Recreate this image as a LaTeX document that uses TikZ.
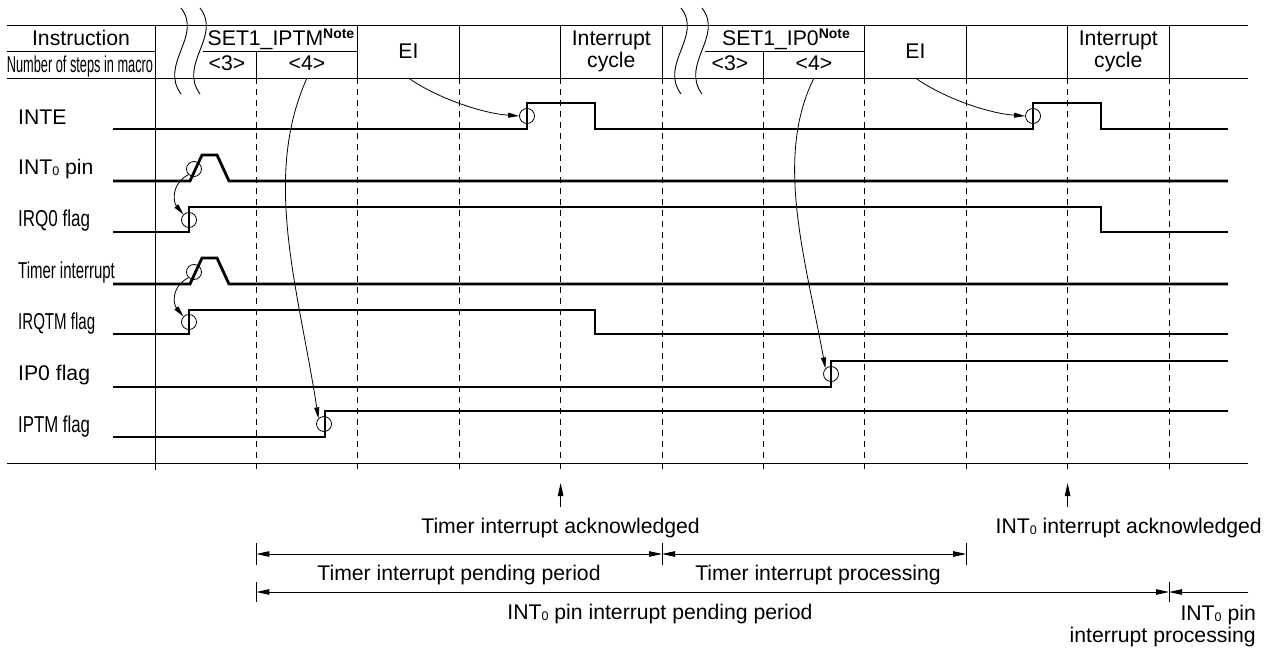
\documentclass[tikz,border=0pt]{standalone}
\usepackage{fontspec}
\setmainfont{Liberation Sans}
\usetikzlibrary{arrows.meta}
\newcommand{\tdfont}{\fontsize{21.2}{22}\selectfont}
\newcommand{\tdtall}{\fontsize{23}{24}\selectfont}
\newcommand{\tdsub}[1]{\raisebox{-1pt}{\fontsize{12.5}{12.5}\selectfont #1}}
\newcommand{\tdnote}{\raisebox{7.5pt}{\fontsize{14}{14}\selectfont\bfseries Note}}
\newcommand{\squeezed}[2]{\scalebox{#1}[1]{\tdtall #2}}
\tikzset{
  tdrule/.style={draw, line width=0.9pt},
  tdgrid/.style={draw, line width=0.9pt, dash pattern=on 6pt off 5pt},
  tdwave/.style={draw, line width=2.8pt},
  tdmark/.style={circle, draw, line width=0.8pt, minimum size=15pt,
                 inner sep=0pt},
  tdcause/.style={draw, line width=0.8pt,
                  -{Triangle[length=11pt, width=5pt]}},
  tdtext/.style={font=\tdfont, inner sep=0pt},
  tdsignal/.style={tdtext, anchor=base west},
  tddim/.style={draw, line width=0.9pt},
  tdboth/.style={{Triangle[length=13pt, width=5.5pt]}-{Triangle[length=13pt, width=5.5pt]}},
  tdone/.style={-{Triangle[length=13pt, width=5.5pt]}}
}

\begin{document}
\begin{tikzpicture}[x=1pt, y=-1pt]
  \path[use as bounding box] (0,0) rectangle (1272,650);
  \coordinate (hb) at (0,78);
  % table frame
  \foreach \y in {25, 78, 463} {
    \draw[tdrule] (7,\y) -- (1248,\y);
  }
  \draw[tdrule] (7,51) -- (155,51);
  \draw[tdrule] (203,51) -- (357.8,51);
  \draw[tdrule] (705,51) -- (864.8,51);
  \draw[tdrule] (155,25) -- (155,470);
  \foreach \x in {357.8, 459.2, 560.6, 662, 864.8, 966.2, 1067.6, 1169} {
    \draw[tdrule] (\x,25) -- (\x,78);
  }
  \foreach \x in {256.4, 763.4} {
    \draw[tdrule] (\x,51) -- (\x,78);
  }
  \foreach \x in {256.4, 357.8, 459.2, 560.6, 662, 763.4, 864.8, 966.2, 1067.6, 1169} {
    \draw[tdgrid] (\x,78) -- (\x,470);
  }
  % breaks in the time axis
  \foreach \x in {181, 200, 681, 702} {
    \draw[tdrule] (\x,8) .. controls (\x+22,36) and (\x-22,64) .. (\x,94);
  }

  % header texts
  \node[tdtext, anchor=base] (instr) at (81,46) {Instruction};
  \node[tdtext, anchor=base] (steps) at (80,73) {\squeezed{0.555}{Number of steps in macro}};
  \node[tdtext, anchor=base] (seta) at (281,46) {SET1\_IPTM\tdnote};
  \node[tdtext, anchor=base] (seta3) at (227,71) {<3>};
  \node[tdtext, anchor=base] (seta4) at (307,71) {<4>};
  \node[tdtext, anchor=base] (eia) at (408.5,59) {EI};
  \node[tdtext, align=center] (cyca) at (611.3,51.5) {Interrupt\\cycle};
  \node[tdtext, anchor=base] (setb) at (786,46) {SET1\_IP0\tdnote};
  \node[tdtext, anchor=base] (setb3) at (730,71) {<3>};
  \node[tdtext, anchor=base] (setb4) at (814,71) {<4>};
  \node[tdtext, anchor=base] (eib) at (915.5,59) {EI};
  \node[tdtext, align=center] (cycb) at (1118.3,51.5) {Interrupt\\cycle};

  % signal names
  \node[tdsignal] (lblinte) at (18,125) {INTE};
  \node[tdsignal] (lblpin) at (18,175) {INT\tdsub{0} pin};
  \node[tdsignal] (lblirq0) at (18,226) {\squeezed{0.74}{IRQ0 flag}};
  \node[tdsignal] (lbltmr) at (18,278) {\squeezed{0.65}{Timer interrupt}};
  \node[tdsignal] (lblirqtm) at (18,329) {\squeezed{0.655}{IRQTM flag}};
  \node[tdsignal] (lblip0) at (18,380) {IP0 flag};
  \node[tdsignal] (lbliptm) at (18,432) {\squeezed{0.73}{IPTM flag}};

  % waveforms
  \draw[tdwave] (113,129) -- (527,129) |- (595,103) |- (1033,129) |- (1101,103) |- (1228,129);
  \foreach \lo/\hi in {181/155, 284/258} {
    \draw[tdwave] (113,\lo) -- (190,\lo) -- (202,\hi) -- (217,\hi) -- (229,\lo) -- (1228,\lo);
  }
  \draw[tdwave] (113,232) -- (189,232) |- (1101,207) |- (1228,232);
  \draw[tdwave] (113,334) -- (189,334) |- (595,310) |- (1228,334);
  \draw[tdwave] (113,387) -- (831,387) |- (1228,361);
  \draw[tdwave] (113,437) -- (325,437) |- (1228,411);

  % change marks
  \node[tdmark] (intea) at (527,116) {};
  \node[tdmark] (inteb) at (1033,116) {};
  \node[tdmark] (pinm) at (194,169) {};
  \node[tdmark] (irq0m) at (189,220) {};
  \node[tdmark] (tmrm) at (194,272) {};
  \node[tdmark] (irqtmm) at (189,322) {};
  \node[tdmark] (ip0m) at (831,374) {};
  \node[tdmark] (iptmm) at (324,424) {};

  % causes
  \draw[tdcause] (eia |- hb) .. controls +(25,18) and +(-40,-3) .. (intea.west);
  \draw[tdcause] (eib |- hb) .. controls +(25,18) and +(-40,-3) .. (inteb.west);
  \draw[tdcause] (pinm.south west) .. controls +(-18,10) and +(-10,-12) .. (irq0m.north west);
  \draw[tdcause] (tmrm.south west) .. controls +(-18,10) and +(-10,-12) .. (irqtmm.north west);
  \draw[tdcause] (seta4 |- hb) .. controls +(-45,100) and +(-20,-130) .. (iptmm.north west);
  \draw[tdcause] (setb4 |- hb) .. controls +(-40,80) and +(-20,-110) .. (ip0m.north west);

  % acknowledge points
  \coordinate (acktaila) at (560.6,507);
  \coordinate (acktipa) at (560.6,483);
  \coordinate (acktailb) at (1067.6,507);
  \coordinate (acktipb) at (1067.6,483);
  \draw[tddim, tdone] (acktaila) -- (acktipa);
  \draw[tddim, tdone] (acktailb) -- (acktipb);
  \node[tdtext, anchor=base] (acka) at (560.6,533) {Timer interrupt acknowledged};
  \node[tdtext, anchor=base east] (ackb) at (1262,533) {INT\tdsub{0} interrupt acknowledged};

  % periods
  \coordinate (pa) at (256.4,554);
  \coordinate (pb) at (662,554);
  \coordinate (pc) at (966.2,554);
  \coordinate (qa) at (256.4,592);
  \coordinate (qb) at (1169,592);
  \coordinate (qc) at (1248,592);
  \foreach \p in {pa, pb, pc} {
    \draw[tddim] ([yshift=11pt]\p) -- ([yshift=-11pt]\p);
  }
  \foreach \p in {qa, qb} {
    \draw[tddim] ([yshift=10pt]\p) -- ([yshift=-10pt]\p);
  }
  \draw[tddim, tdboth] (pa) -- (pb);
  \draw[tddim, tdboth] (pb) -- (pc);
  \draw[tddim, tdboth] (qa) -- (qb);
  \draw[tddim, tdone] (qc) -- (qb);
  \node[tdtext, anchor=base] (penda) at (459,580) {Timer interrupt pending period};
  \node[tdtext, anchor=base] (proca) at (818,580) {Timer interrupt processing};
  \node[tdtext, anchor=base] (pendb) at (660,619) {INT\tdsub{0} pin interrupt pending period};
  \node[tdtext, anchor=base east] (procb) at (1256,620) {INT\tdsub{0} pin};
  \node[tdtext, anchor=base east] (procc) at (1256,642) {interrupt processing};
\end{tikzpicture}
\end{document}
